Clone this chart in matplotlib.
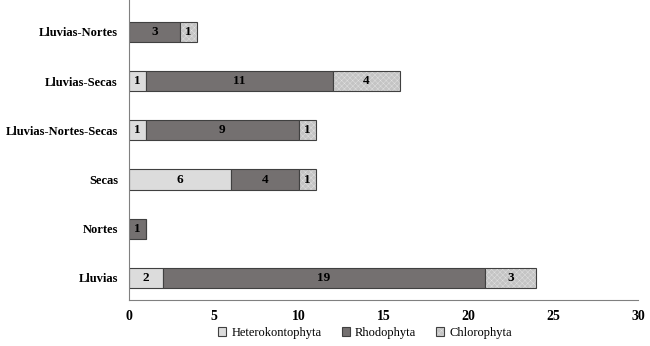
import matplotlib
matplotlib.use("Agg")
import matplotlib.pyplot as plt
import numpy as np

categories = ["Lluvias", "Nortes", "Secas", "Lluvias-Nortes-Secas", "Lluvias-Secas", "Lluvias-Nortes"]
heterokontophyta = [2, 0, 6, 1, 1, 0]
rhodophyta = [19, 1, 4, 9, 11, 3]
chlorophyta = [3, 0, 1, 1, 4, 1]
series_names = ["Heterokontophyta", "Rhodophyta", "Chlorophyta"]
xticks = [0, 5, 10, 15, 20, 25, 30]

plt.rcParams['font.family'] = ['Liberation Serif', 'DejaVu Serif']
plt.rcParams['hatch.linewidth'] = 0.3

fig = plt.figure(figsize=(6.5, 3.46), dpi=100)
ax = fig.add_axes([129/650, 46/346, (638-129)/650, 300/346])

y = np.arange(len(categories))
h = 0.41
colors = ["#dcdcdc", "#747070", "#c4c4c4"]
hatches = [None, None, "xxxxxx"]
left = np.zeros(len(categories))
for vals, name, c, ht in zip([heterokontophyta, rhodophyta, chlorophyta], series_names, colors, hatches):
    vals = np.array(vals, dtype=float)
    bars = ax.barh(y, vals, left=left, height=h, color=c, edgecolor="#404040", linewidth=0.8,
                   label=name, hatch=ht)
    if ht:
        for b in bars:
            b._hatch_color = matplotlib.colors.to_rgba("#e4e4e4")
    for yi, v, l in zip(y, vals, left):
        if v > 0:
            ax.text(l + v/2, yi, f"{int(v)}", ha="center", va="center", fontsize=9.5, fontweight="bold", color="black")
    left += vals

ax.set_xlim(0, 30)
ax.set_ylim(-0.45, 5.65)
ax.set_xticks(xticks)
ax.set_xticklabels([str(t) for t in xticks], fontsize=10, fontweight="bold")
ax.set_yticks(y)
ax.set_yticklabels(categories, fontsize=9, fontweight="bold")
ax.tick_params(length=0)
ax.tick_params(axis='y', pad=8)
ax.tick_params(axis='x', pad=7)
for s in ["top", "right"]:
    ax.spines[s].set_visible(False)
for s in ["left", "bottom"]:
    ax.spines[s].set_color("#808080")
    ax.spines[s].set_linewidth(0.8)

leg = fig.legend(loc="center", bbox_to_anchor=(365/650, 1 - 333/346), ncol=3, frameon=False,
                 fontsize=9, handlelength=0.65, handleheight=0.65, handletextpad=0.4, columnspacing=1.6,
                 borderpad=0.1)

fig.savefig("out.png", dpi=100)
